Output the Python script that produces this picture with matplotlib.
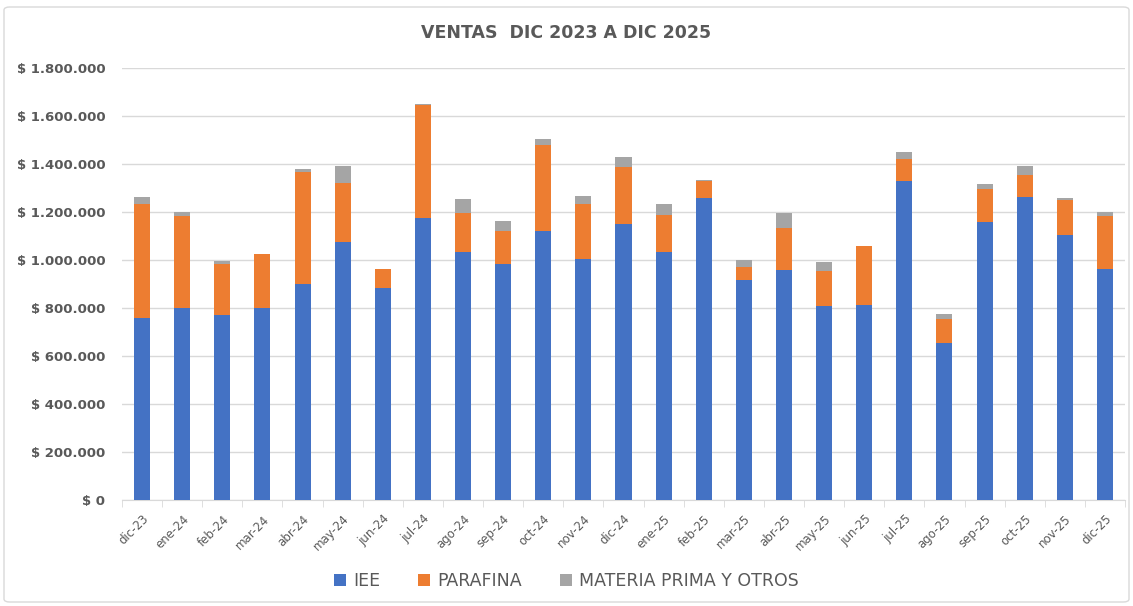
import matplotlib.pyplot as plt
from matplotlib.ticker import FuncFormatter, FixedLocator
from matplotlib.patches import FancyBboxPatch
import numpy as np

meses = ["dic-23", "ene-24", "feb-24", "mar-24", "abr-24", "may-24", "jun-24",
         "jul-24", "ago-24", "sep-24", "oct-24", "nov-24", "dic-24", "ene-25",
         "feb-25", "mar-25", "abr-25", "may-25", "jun-25", "jul-25", "ago-25",
         "sep-25", "oct-25", "nov-25", "dic-25"]

iee = [760000, 799000, 769000, 799000, 899000, 1075000, 883000, 1174000,
       1032000, 983000, 1121000, 1004000, 1150000, 1035000, 1260000, 917000,
       958000, 807000, 811000, 1331000, 656000, 1158000, 1261000, 1103000, 964000]
parafina = [472000, 386000, 214000, 227000, 466000, 247000, 81000, 470000,
            162000, 139000, 358000, 228000, 239000, 152000, 69000, 52000,
            177000, 146000, 247000, 88000, 100000, 136000, 93000, 147000, 219000]
materia = [29000, 14000, 13000, 0, 14000, 71000, 0, 6000,
           60000, 40000, 27000, 36000, 42000, 46000, 3000, 31000,
           62000, 40000, 0, 31000, 18000, 23000, 38000, 10000, 17000]

azul = "#4472C4"
naranja = "#ED7D31"
gris = "#A5A5A5"
texto = "#595959"

fig = plt.figure(figsize=(11.33, 6.06), dpi=100)
ax = fig.add_axes([122 / 1133, 1 - 500 / 606, (1125 - 122) / 1133, 432 / 606])

x = np.arange(len(meses))
w = 0.4
base2 = np.array(iee) + np.array(parafina)
ax.bar(x, iee, w, color=azul, label="IEE", zorder=3)
ax.bar(x, parafina, w, bottom=iee, color=naranja, label="PARAFINA", zorder=3)
ax.bar(x, materia, w, bottom=base2, color=gris, label="MATERIA PRIMA Y OTROS", zorder=3)

ax.set_xlim(-0.5, len(meses) - 0.5)
ax.set_ylim(0, 1800000)
ax.set_yticks(np.arange(0, 1800001, 200000))
ax.yaxis.set_major_formatter(FuncFormatter(lambda v, p: "$ " + f"{int(v):,}".replace(",", ".")))
ax.grid(axis="y", color="#D9D9D9", linewidth=1, zorder=0)

ax.set_xticks(x)
ax.set_xticklabels(meses, rotation=45, ha="right", rotation_mode="anchor",
                   fontsize=8.5, color=texto)
ax.xaxis.set_minor_locator(FixedLocator(np.arange(-0.5, len(meses), 1)))
ax.tick_params(axis="x", which="major", length=0, pad=9)
ax.tick_params(axis="x", which="minor", length=5, color="#D9D9D9")
ax.tick_params(axis="y", length=0, labelsize=9.5, labelcolor=texto, pad=12)
for lbl in ax.get_yticklabels():
    lbl.set_fontweight("bold")

for s in ["top", "right", "left"]:
    ax.spines[s].set_visible(False)
ax.spines["bottom"].set_color("#D9D9D9")

fig.text(0.5, 1 - 33 / 606, "VENTAS  DIC 2023 A DIC 2025", ha="center", va="center",
         fontsize=12.5, fontweight="bold", color=texto)

fig.legend(loc="center", bbox_to_anchor=(0.5, 1 - 581 / 606), ncol=3, frameon=False,
           fontsize=12.5, labelcolor=texto, handlelength=0.7, handleheight=0.7,
           columnspacing=2.2, handletextpad=0.4)

borde = FancyBboxPatch((4 / 1133, 4 / 606), 1 - 8 / 1133, 1 - 11 / 606,
                       boxstyle="round,pad=0,rounding_size=0.005",
                       transform=fig.transFigure, fill=False,
                       edgecolor="#D9D9D9", linewidth=1)
fig.patches.append(borde)

fig.savefig("out.png", dpi=100)
